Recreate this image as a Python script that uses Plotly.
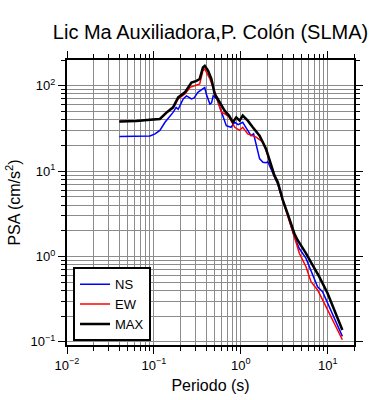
import plotly.graph_objects as go
import numpy as np

# ---- data ----
max_period = [0.04, 0.063, 0.09, 0.117, 0.14, 0.166, 0.19, 0.227, 0.27, 0.309, 0.336,
              0.366, 0.384, 0.419, 0.458, 0.5, 0.57, 0.65, 0.73, 0.81, 0.885, 0.967,
              1.05, 1.2, 1.37, 1.64, 1.95, 2.13, 2.43, 2.66, 3.03, 3.45, 4.12, 4.5, 5.61,
              6.68, 7.96, 9.93, 14.7]
max_psa = [38, 38.5, 40, 40.8, 48.7, 55.8, 73, 83.6, 109, 114, 120,
           164, 171, 150, 120, 80, 64, 51, 44.7, 37.3, 42.6, 39,
           44.7, 39, 32.6, 26, 18.2, 13.3, 8.9, 7.4, 4.6, 3.18, 1.86, 1.55, 1.09,
           0.794, 0.58, 0.371, 0.138]

ew_period = [0.04, 0.063, 0.09, 0.117, 0.14, 0.166, 0.19, 0.227, 0.26, 0.309, 0.336,
             0.366, 0.384, 0.44, 0.5, 0.6, 0.65, 0.73, 0.85, 0.967, 1.05, 1.2, 1.5,
             1.79, 2.04, 2.43, 2.66, 3.03, 3.45, 4.12, 4.7, 5.61, 6.4, 7.62, 9.1, 11.3, 14.7]
ew_psa = [38, 38.5, 40, 40.8, 48, 55, 70, 80, 95.5, 103, 105,
          150, 157, 120, 85, 48.7, 47, 43, 32.6, 30, 32.6, 27.3, 25,
          21.8, 15.2, 8.7, 7.1, 4.5, 3.05, 1.70, 1.09, 0.76, 0.507, 0.406, 0.284, 0.181, 0.106]

ns_period = [0.04, 0.063, 0.09, 0.103, 0.117, 0.134, 0.166, 0.18, 0.19, 0.217, 0.237,
             0.27, 0.29, 0.32, 0.366, 0.384, 0.4, 0.44, 0.46, 0.48, 0.53, 0.6, 0.68,
             0.77, 0.85, 0.93, 1.05, 1.14, 1.31, 1.4, 1.64, 1.79, 1.95, 2.04, 2.33, 2.66,
             3.03, 3.45, 4.12, 4.7, 5.61, 6.4, 7.62, 8.7, 10.4, 14.7]
ns_psa = [25.4, 25.6, 25.8, 27.3, 30, 37.3, 48.7, 55.8, 53, 70, 76,
          70, 72, 83.6, 91.5, 95.5, 80, 61, 63, 76, 70, 49, 34,
          32.6, 37.3, 35, 37.3, 32.6, 26, 27.3, 14, 12.7, 12.5, 12.9, 9.5, 7.0,
          4.5, 3.1, 1.70, 1.24, 0.95, 0.69, 0.443, 0.388, 0.259, 0.116]

x_tickvals = [0.01, 0.1, 1, 10]
x_ticktext = ["10<sup>\u22122</sup>", "10<sup>\u22121</sup>", "10<sup>0</sup>", "10<sup>1</sup>"]
y_tickvals = [0.1, 1, 10, 100]
y_ticktext = ["10<sup>\u22121</sup>", "10<sup>0</sup>", "10<sup>1</sup>", "10<sup>2</sup>"]

title_text = "Lic Ma Auxiliadora,P. Colón (SLMA)"
x_title = "Periodo (s)"
y_title = "PSA (cm/s<sup>2</sup>)"

FONT = "Liberation Sans, Arial, Helvetica, sans-serif"

minor_x = [m * 10.0 ** k for k in range(-2, 2) for m in range(2, 10)]
minor_y = [m * 10.0 ** k for k in range(-2, 3) for m in range(2, 10)]

fig = go.Figure()
fig.add_trace(go.Scatter(x=ns_period, y=ns_psa, mode="lines", name="NS",
                         line=dict(color="#0000ff", width=1.5)))
fig.add_trace(go.Scatter(x=ew_period, y=ew_psa, mode="lines", name="EW",
                         line=dict(color="#ff0000", width=1.5)))
fig.add_trace(go.Scatter(x=max_period, y=max_psa, mode="lines", name="MAX",
                         line=dict(color="#000000", width=2.5)))

grid_color = "#8c8c8c"
axis_common = dict(
    showline=True, linecolor="black", linewidth=2, mirror="allticks",
    ticks="outside", ticklen=7, tickwidth=1, tickcolor="black",
    showgrid=True, gridcolor=grid_color, gridwidth=1,
    zeroline=False, automargin=False,
    tickfont=dict(family=FONT, size=13, color="black"),
)

fig.update_xaxes(
    type="log", range=[np.log10(0.01), np.log10(20)],
    tickmode="array", tickvals=x_tickvals, ticktext=x_ticktext,
    minor=dict(tickmode="array", tickvals=minor_x, ticks="outside", ticklen=4,
               tickcolor="black", showgrid=True, gridcolor=grid_color, gridwidth=1),
    title=dict(text=x_title, font=dict(family=FONT, size=16, color="black"), standoff=8),
    **axis_common,
)
fig.update_yaxes(
    type="log", range=[np.log10(0.092), np.log10(200)],
    tickmode="array", tickvals=y_tickvals, ticktext=y_ticktext,
    minor=dict(tickmode="array", tickvals=minor_y, ticks="outside", ticklen=4,
               tickcolor="black", showgrid=True, gridcolor=grid_color, gridwidth=1),
    title=dict(text=y_title, font=dict(family=FONT, size=16, color="black"), standoff=6),
    **axis_common,
)

fig.update_layout(
    width=390, height=400,
    margin=dict(l=67, r=36, t=60, b=55),
    paper_bgcolor="white", plot_bgcolor="white",
    font=dict(family=FONT, color="black"),
    title=dict(text=title_text, x=0.5, xref="paper", xanchor="center",
               y=1 - 32 / 400, yref="container", yanchor="middle",
               font=dict(family=FONT, size=20, color="black")),
    legend=dict(x=0.021, y=0.273, xanchor="left", yanchor="top",
                bgcolor="white", bordercolor="black", borderwidth=2,
                font=dict(family=FONT, size=13, color="black"),
                tracegroupgap=2),
    showlegend=True,
)

fig.write_html("out.html", config={"displayModeBar": False},
               post_script="document.body.style.margin='0';")
